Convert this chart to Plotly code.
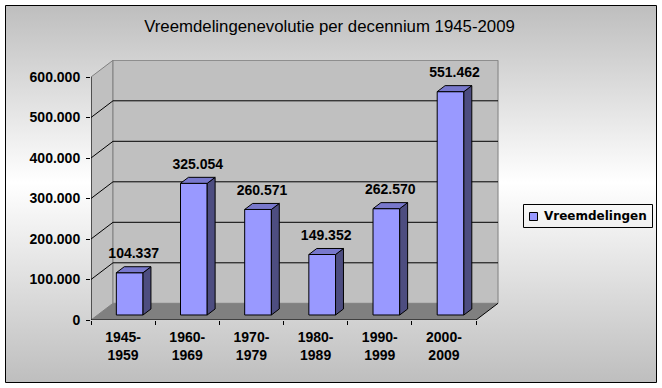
import base64
import plotly.graph_objects as go

# ---------------- data ----------------
categories = ["1945-1959", "1960-1969", "1970-1979", "1980-1989", "1990-1999", "2000-2009"]
tick_labels = ["1945-<br>1959", "1960-<br>1969", "1970-<br>1979", "1980-<br>1989", "1990-<br>1999", "2000-<br>2009"]
values = [104337, 325054, 260571, 149352, 262570, 551462]
y_ticks = [0, 100000, 200000, 300000, 400000, 500000, 600000]
series_name = "Vreemdelingen"
title_text = "Vreemdelingenevolutie per decennium 1945-2009"


def nl_fmt(v):
    return f"{v:,}".replace(",", ".")


# ---------------- geometry (styling) ----------------
W, H = 662, 388
L, R, T, B = 91, 163, 60, 68
PW, PH = W - L - R, H - T - B
STEP = 64.17              # px per category
PXPER = 40.5 / 100000     # px per unit
XR = [-0.5, -0.5 + PW / STEP]
YR = [0, PH / PXPER]
DXd = 22 / STEP           # depth vector in data units
DYd = 16.7 / PXPER
F_FRONT, F_BACK = 0.30, 0.66
BW = 0.416
LABEL_PAD = 5 / PXPER
YMAX = y_ticks[-1]
n = len(categories)
xi = list(range(n))

FRONT = "#9999FF"
SIDE = "#4D4D80"
TOP = "#7878CC"
FONT = "Liberation Sans, Arial, sans-serif"
LEGFONT = "DejaVu Sans, Verdana, sans-serif"


def pxx(px):
    return (px - L) / PW


def pxy(py):
    return (H - B - py) / PH


fig = go.Figure()

# front faces
fig.add_trace(go.Bar(
    x=[i + F_FRONT * DXd for i in xi], y=values, base=F_FRONT * DYd,
    width=BW, marker=dict(color=FRONT, line=dict(color="black", width=1)),
    showlegend=False, hoverinfo="skip", name=series_name,
))

# side and top faces
ddx = (F_BACK - F_FRONT) * DXd
ddy = (F_BACK - F_FRONT) * DYd
sx, sy, tx, ty = [], [], [], []
for i, v in zip(xi, values):
    c = i + F_FRONT * DXd
    xl, xr = c - BW / 2, c + BW / 2
    b0 = F_FRONT * DYd
    top = b0 + v
    sx += [xr, xr, xr + ddx, xr + ddx, xr, None]
    sy += [b0, top, top + ddy, b0 + ddy, b0, None]
    tx += [xl, xr, xr + ddx, xl + ddx, xl, None]
    ty += [top, top, top + ddy, top + ddy, top, None]
fig.add_trace(go.Scatter(x=sx, y=sy, mode="lines", fill="toself", fillcolor=SIDE,
                         line=dict(color="black", width=1), showlegend=False, hoverinfo="skip"))
fig.add_trace(go.Scatter(x=tx, y=ty, mode="lines", fill="toself", fillcolor=TOP,
                         line=dict(color="black", width=1), showlegend=False, hoverinfo="skip"))

# data labels
fig.add_trace(go.Scatter(
    x=[i + 0.48 * DXd for i in xi], y=[v + F_BACK * DYd + LABEL_PAD for v in values],
    mode="text", text=[nl_fmt(v) for v in values], textposition="top center",
    textfont=dict(family=FONT, size=14, color="black", weight="bold"),
    showlegend=False, hoverinfo="skip", cliponaxis=False,
))

# ---------------- walls, floor, gridlines ----------------
shapes = []
x0, x1 = XR[0], XR[0] + n
shapes.append(dict(type="path", xref="x", yref="y", layer="below",
                   path=f"M{x0},0 L{x0},{YMAX} L{x0 + DXd},{YMAX + DYd} L{x0 + DXd},{DYd} Z",
                   fillcolor="#C0C0C0", line=dict(color="#808080", width=1)))
shapes.append(dict(type="rect", xref="x", yref="y", layer="below",
                   x0=x0 + DXd, y0=DYd, x1=x1 + DXd, y1=YMAX + DYd,
                   fillcolor="#C0C0C0", line=dict(color="#808080", width=1)))
for t in y_ticks[1:-1]:
    shapes.append(dict(type="line", xref="x", yref="y", layer="below",
                       x0=x0, y0=t, x1=x0 + DXd, y1=t + DYd, line=dict(color="black", width=1)))
    shapes.append(dict(type="line", xref="x", yref="y", layer="below",
                       x0=x0 + DXd, y0=t + DYd, x1=x1 + DXd, y1=t + DYd, line=dict(color="black", width=1)))
shapes.append(dict(type="path", xref="x", yref="y", layer="below",
                   path=f"M{x0},0 L{x1},0 L{x1 + DXd},{DYd} L{x0 + DXd},{DYd} Z",
                   fillcolor="#808080", line=dict(width=0)))
shapes.append(dict(type="line", xref="x", yref="y", layer="below",
                   x0=x1, y0=0, x1=x1 + DXd, y1=DYd, line=dict(color="black", width=1)))
shapes.append(dict(type="line", xref="x", yref="y", layer="above",
                   x0=x0, y0=0, x1=x1, y1=0, line=dict(color="black", width=1)))
shapes.append(dict(type="line", xref="x", yref="y", layer="above",
                   x0=x0, y0=0, x1=x0, y1=YMAX, line=dict(color="black", width=1)))
# chart border
shapes.append(dict(type="rect", xref="paper", yref="paper", layer="below",
                   x0=pxx(5.5), y0=pxy(382.5), x1=pxx(656.5), y1=pxy(5.5),
                   line=dict(color="black", width=1), fillcolor="rgba(0,0,0,0)"))
# legend box and swatch
shapes.append(dict(type="rect", xref="paper", yref="paper", layer="above",
                   x0=pxx(523.5), y0=pxy(227.5), x1=pxx(652.5), y1=pxy(204.5),
                   line=dict(color="black", width=1), fillcolor="rgba(0,0,0,0)"))
shapes.append(dict(type="rect", xref="paper", yref="paper", layer="above",
                   x0=pxx(529.5), y0=pxy(220.5), x1=pxx(537.5), y1=pxy(212.5),
                   line=dict(color="black", width=1), fillcolor=FRONT))

annotations = [dict(text=series_name, xref="paper", yref="paper", x=pxx(542), y=pxy(216),
                    xanchor="left", yanchor="middle", showarrow=False,
                    font=dict(family=LEGFONT, size=12, color="black", weight="bold"))]

# gradient background
svg = ("<svg xmlns='http://www.w3.org/2000/svg' width='651' height='377' preserveAspectRatio='none'>"
       "<defs><linearGradient id='g' x1='0' y1='0' x2='0' y2='1'>"
       "<stop offset='0' stop-color='#BEBEBE'/><stop offset='0.47' stop-color='#FFFFFF'/>"
       "<stop offset='1' stop-color='#BEBEBE'/></linearGradient></defs>"
       "<rect width='651' height='377' fill='url(#g)'/></svg>")
uri = "data:image/svg+xml;base64," + base64.b64encode(svg.encode()).decode()

fig.update_layout(
    width=W, height=H,
    margin=dict(l=L, r=R, t=T, b=B, pad=0),
    paper_bgcolor="white", plot_bgcolor="rgba(0,0,0,0)",
    shapes=shapes, annotations=annotations,
    images=[dict(source=uri, xref="paper", yref="paper", x=pxx(5.5), y=pxy(5.5),
                 sizex=pxx(656.5) - pxx(5.5), sizey=pxy(5.5) - pxy(382.5),
                 xanchor="left", yanchor="top", sizing="stretch", layer="below")],
    title=dict(text=title_text, x=329.5 / W, xref="container", xanchor="center",
               y=1 - 26.5 / H, yref="container", yanchor="middle",
               font=dict(family=FONT, size=16.8, color="black")),
    xaxis=dict(range=XR, showgrid=False, zeroline=False, showline=False,
               tickmode="array", tickvals=xi, ticktext=tick_labels, ticks="",
               ticklabelstandoff=7,
               tickfont=dict(family=FONT, size=14, color="black", weight="bold"),
               minor=dict(tickmode="array", tickvals=[i - 0.5 for i in range(n + 1)],
                          ticks="outside", ticklen=4, tickcolor="black", tickwidth=1, showgrid=False),
               fixedrange=True),
    yaxis=dict(range=YR, showgrid=False, zeroline=False, showline=False,
               tickmode="array", tickvals=y_ticks, ticktext=[nl_fmt(t) for t in y_ticks],
               ticks="outside", ticklen=4, tickcolor="black", ticklabelstandoff=3,
               tickfont=dict(family=FONT, size=14, color="black", weight="bold"),
               fixedrange=True),
    showlegend=False,
)

fig.write_html("out.html", config={"displayModeBar": False},
               post_script="document.body.style.margin='0';")
